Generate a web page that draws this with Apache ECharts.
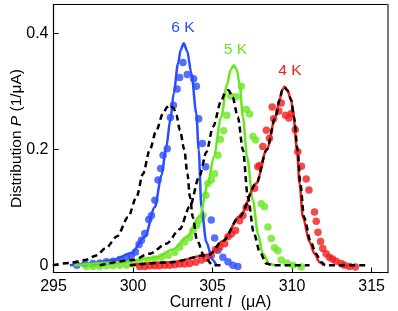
<!DOCTYPE html>
<html><head><meta charset="utf-8">
<script src="https://cdn.jsdelivr.net/npm/echarts@6/dist/echarts.min.js"></script>
<style>html,body{margin:0;padding:0;background:#fff}#c{width:398px;height:311px}</style>
</head><body><div id="c"></div>
<script>
// ---- data (current I in µA, distribution P in 1/µA) ----
const xTicks = [295, 300, 305, 310, 315];
const yTicks = [0, 0.2, 0.4];
const tempLabels = ['6 K', '5 K', '4 K'];

const dots6K = [[296.47,0.0],[296.97,0.002],[297.47,0.003],[297.91,0.004],[298.33,0.006],[298.75,0.007],[299.17,0.010],[299.59,0.013],[299.90,0.017],[300.15,0.023],[300.38,0.036],[300.53,0.043],[300.74,0.055],[300.99,0.079],[301.16,0.086],[301.37,0.112],[301.57,0.147],[301.74,0.167],[301.89,0.190],[302.15,0.201],[302.35,0.255],[302.54,0.276],[302.77,0.304],[302.93,0.324],[303.14,0.350],[303.41,0.329],[303.81,0.322],[303.98,0.309],[304.13,0.253],[304.36,0.210],[304.57,0.170],[304.92,0.078],[305.13,0.047],[305.34,0.026],[305.65,0.014],[305.97,0.006],[306.28,0.0],[306.59,-0.002]];
const dots5K = [[297.08,-0.002],[297.50,-0.002],[297.91,-0.002],[298.33,-0.001],[298.73,-0.001],[299.17,0.0],[299.59,0.0],[300.00,0.002],[300.42,0.005],[300.93,0.008],[301.37,0.011],[301.79,0.014],[302.20,0.017],[302.62,0.022],[302.93,0.031],[303.25,0.040],[303.56,0.048],[303.77,0.060],[304.00,0.069],[304.19,0.078],[304.40,0.086],[304.57,0.121],[304.71,0.141],[304.92,0.147],[305.13,0.158],[305.34,0.190],[305.49,0.217],[305.70,0.232],[305.90,0.259],[306.14,0.292],[306.49,0.291],[306.81,0.309],[307.12,0.269],[307.33,0.261],[307.54,0.222],[307.71,0.216],[308.06,0.106],[308.27,0.101],[308.48,0.066],[308.69,0.046],[308.90,0.030],[309.11,0.025],[309.32,0.009],[309.67,0.004],[310.05,0.0],[310.57,-0.003]];
const dots4K = [[300.42,-0.002],[300.74,-0.002],[301.05,-0.001],[301.37,-0.001],[301.67,-0.001],[302.00,0.0],[302.31,0.0],[302.62,0.001],[302.93,0.002],[303.25,0.002],[303.56,0.003],[303.94,0.005],[304.30,0.009],[304.61,0.012],[304.92,0.017],[305.19,0.027],[305.45,0.031],[305.76,0.037],[305.97,0.049],[306.18,0.054],[306.45,0.060],[306.70,0.077],[306.91,0.086],[307.12,0.100],[307.64,0.133],[307.85,0.170],[307.96,0.172],[308.16,0.205],[308.38,0.233],[308.58,0.219],[308.75,0.273],[308.84,0.253],[309.17,0.266],[309.32,0.280],[309.59,0.259],[309.80,0.254],[309.95,0.262],[310.20,0.234],[310.36,0.196],[310.59,0.171],[310.89,0.149],[311.06,0.130],[311.41,0.092],[311.52,0.076],[311.63,0.057],[311.79,0.041],[311.93,0.029],[312.14,0.020],[312.35,0.014],[312.54,0.011],[312.77,0.007],[313.09,0.003],[313.29,0.0],[313.61,-0.002],[313.98,-0.003]];

const fit6K = [[296.03,0.0],[297.5,0.003],[298.73,0.009],[299.90,0.021],[300.74,0.049],[301.37,0.100],[301.79,0.155],[302.09,0.204],[302.35,0.252],[302.56,0.297],[302.83,0.348],[303.0,0.372],[303.19,0.383],[303.40,0.370],[303.67,0.331],[303.98,0.262],[304.13,0.199],[304.30,0.100],[304.61,0.040],[305.0,0.009],[305.25,0.0]];
const fit5K = [[296.3,0.0],[299.17,0.005],[301.47,0.014],[302.50,0.027],[303.39,0.049],[304.19,0.085],[304.71,0.140],[305.07,0.187],[305.55,0.256],[305.90,0.311],[306.15,0.338],[306.34,0.345],[306.52,0.338],[306.70,0.312],[306.91,0.256],[307.17,0.187],[307.54,0.112],[307.85,0.055],[308.16,0.020],[308.58,0.002],[308.9,0.0]];
const fit4K = [[299.8,0.0],[302.31,0.005],[304.76,0.018],[305.65,0.042],[306.70,0.084],[307.75,0.141],[308.40,0.199],[308.96,0.256],[309.21,0.285],[309.38,0.302],[309.53,0.308],[309.70,0.302],[309.95,0.285],[310.09,0.256],[310.31,0.199],[310.47,0.141],[310.68,0.083],[311.10,0.040],[311.41,0.020],[311.73,0.005],[311.97,0.0]];

const model6K = [[294.96,0.0],[296.0,0.004],[297.0,0.009],[297.7,0.017],[298.3,0.030],[299.0,0.050],[299.69,0.083],[300.22,0.118],[300.63,0.158],[301.05,0.199],[301.47,0.233],[301.89,0.262],[302.15,0.273],[302.34,0.276],[302.55,0.271],[302.73,0.259],[302.95,0.233],[303.22,0.200],[303.42,0.158],[303.58,0.118],[303.76,0.083],[304.02,0.043],[304.50,0.014],[305.03,0.0],[305.5,0.0]];
const model5K = [[297.91,0.0],[299.98,0.009],[301.05,0.020],[302.10,0.037],[302.93,0.062],[303.56,0.101],[304.19,0.155],[304.61,0.195],[305.03,0.239],[305.56,0.285],[305.80,0.298],[306.01,0.302],[306.26,0.290],[306.59,0.256],[306.91,0.199],[307.22,0.118],[307.60,0.055],[307.96,0.024],[308.38,0.003],[308.8,0.0],[311.1,0.0]];
const model4K = [[299.8,0.0],[302.31,0.005],[304.76,0.018],[305.65,0.042],[306.70,0.084],[307.75,0.141],[308.40,0.199],[308.96,0.256],[309.21,0.285],[309.38,0.302],[309.53,0.307],[309.70,0.302],[309.95,0.285],[310.12,0.256],[310.35,0.199],[310.52,0.141],[310.75,0.083],[311.18,0.040],[311.50,0.020],[311.85,0.005],[312.1,0.0],[314.7,0.0]];

// ---- chart ----
const BLUE = '#2b4cff', GREEN = '#6ae61f', RED = '#f41c1c';
const FONT = 'Liberation Sans, Arial, Helvetica, sans-serif';
const chart = echarts.init(document.getElementById('c'), null, {renderer: 'canvas'});

function dots(data, color) {
  return {type: 'scatter', data: data, symbol: 'circle', symbolSize: 7.5,
    itemStyle: {color: color}, silent: true, z: 2};
}
function fit(data, color) {
  return {type: 'line', data: data, showSymbol: false, smooth: 0.3, smoothMonotone: 'x',
    lineStyle: {color: color, width: 2.5}, silent: true, z: 3};
}
function model(data) {
  return {type: 'line', data: data, showSymbol: false, smooth: 0.3, smoothMonotone: 'x',
    lineStyle: {color: '#000', width: 2.5, type: [6, 4]}, silent: true, z: 4};
}

chart.setOption({
  animation: false,
  backgroundColor: '#fff',
  grid: {left: 53.5, right: 10.5, top: 4.5, bottom: 38.5, show: true, borderColor: '#000', borderWidth: 1,
    containLabel: false, outerBoundsMode: 'none'},
  xAxis: {
    type: 'value', min: 295, max: 316, interval: 5,
    axisLine: {show: true, onZero: false, lineStyle: {color: '#000', width: 1.2}},
    axisTick: {show: true, inside: true, length: 5, lineStyle: {color: '#000'}, customValues: xTicks},
    axisLabel: {color: '#000', fontSize: 16, fontFamily: FONT, margin: 6, customValues: xTicks},
    splitLine: {show: false},
    name: 'Current {i|I}  (\u03bcA)', nameLocation: 'middle', nameGap: 22, nameMoveOverlap: false,
    nameTextStyle: {color: '#000', fontSize: 16, fontFamily: FONT,
      rich: {i: {fontStyle: 'italic', fontSize: 16, fontFamily: FONT, color: '#000'}}}
  },
  yAxis: [{
    type: 'value', min: -0.0125, max: 0.45,
    axisLine: {show: true, onZero: false, lineStyle: {color: '#000', width: 1.2}},
    axisTick: {show: true, inside: true, length: 5, lineStyle: {color: '#000'}, customValues: yTicks},
    axisLabel: {color: '#000', fontSize: 16, fontFamily: FONT, margin: 5, customValues: yTicks,
      formatter: v => (v === 0 ? '0' : String(+v.toFixed(1)))},
    splitLine: {show: false},
    name: 'Distribution {i|P} (1/\u03bcA)', nameLocation: 'middle', nameGap: 29, nameRotate: 90, nameMoveOverlap: false,
    nameTextStyle: {color: '#000', fontSize: 15.5, fontFamily: FONT,
      rich: {i: {fontStyle: 'italic', fontSize: 15.5, fontFamily: FONT, color: '#000'}}}
  }, {
    type: 'value', min: -0.0125, max: 0.45, position: 'right',
    axisLine: {show: true, onZero: false, lineStyle: {color: '#777', width: 2}},
    axisTick: {show: false}, axisLabel: {show: false}, splitLine: {show: false}
  }],
  graphic: [
    {type: 'text', x: 183, y: 27.5, style: {text: tempLabels[0], fill: BLUE, font: '15.5px ' + FONT, align: 'center', verticalAlign: 'middle'}},
    {type: 'text', x: 235.5, y: 50, style: {text: tempLabels[1], fill: GREEN, font: '15.5px ' + FONT, align: 'center', verticalAlign: 'middle'}},
    {type: 'text', x: 290, y: 70.5, style: {text: tempLabels[2], fill: RED, font: '15.5px ' + FONT, align: 'center', verticalAlign: 'middle'}}
  ],
  series: [
    dots(dots6K, BLUE), dots(dots5K, GREEN), dots(dots4K, RED),
    fit(fit6K, BLUE), fit(fit5K, GREEN), fit(fit4K, RED),
    model(model6K), model(model5K), model(model4K)
  ]
});
</script></body></html>
